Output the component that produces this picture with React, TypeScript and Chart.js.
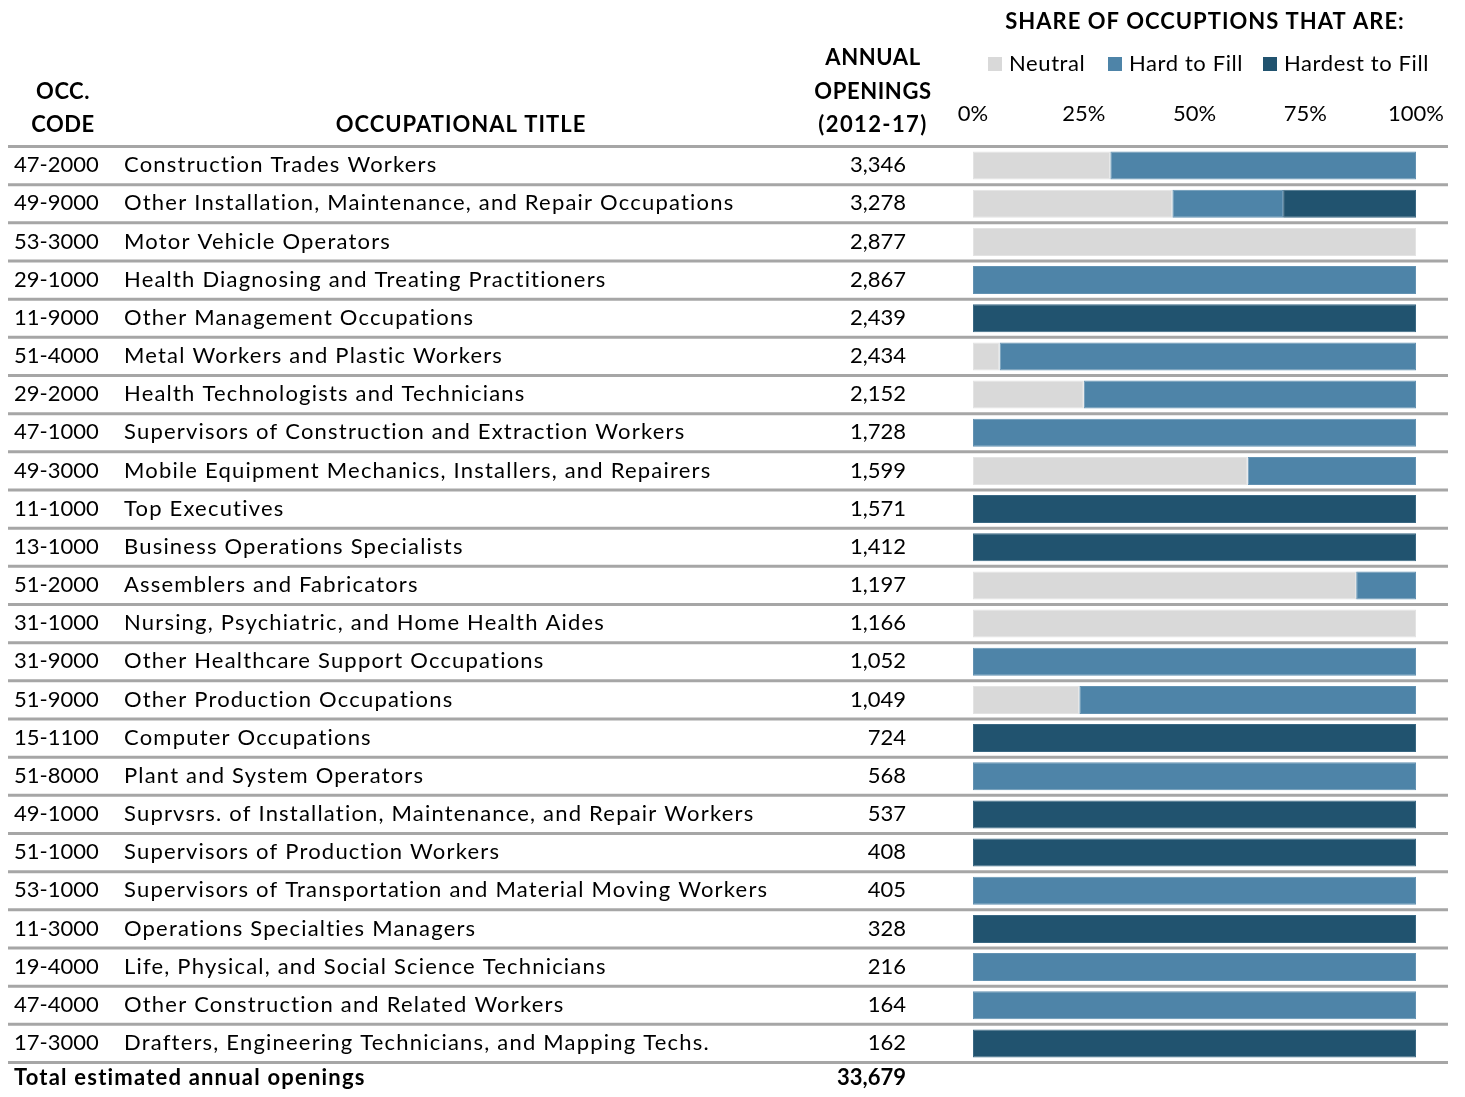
import React, { useEffect, useRef } from "react";
import { Chart, registerables } from "chart.js";

Chart.register(...registerables);

const codes = [
  "47-2000", "49-9000", "53-3000", "29-1000", "11-9000", "51-4000", "29-2000", "47-1000",
  "49-3000", "11-1000", "13-1000", "51-2000", "31-1000", "31-9000", "51-9000", "15-1100",
  "51-8000", "49-1000", "51-1000", "53-1000", "11-3000", "19-4000", "47-4000", "17-3000",
];

const titles = [
  "Construction Trades Workers",
  "Other Installation, Maintenance, and Repair Occupations",
  "Motor Vehicle Operators",
  "Health Diagnosing and Treating Practitioners",
  "Other Management Occupations",
  "Metal Workers and Plastic Workers",
  "Health Technologists and Technicians",
  "Supervisors of Construction and Extraction Workers",
  "Mobile Equipment Mechanics, Installers, and Repairers",
  "Top Executives",
  "Business Operations Specialists",
  "Assemblers and Fabricators",
  "Nursing, Psychiatric, and Home Health Aides",
  "Other Healthcare Support Occupations",
  "Other Production Occupations",
  "Computer Occupations",
  "Plant and System Operators",
  "Suprvsrs. of Installation, Maintenance, and Repair Workers",
  "Supervisors of Production Workers",
  "Supervisors of Transportation and Material Moving Workers",
  "Operations Specialties Managers",
  "Life, Physical, and Social Science Technicians",
  "Other Construction and Related Workers",
  "Drafters, Engineering Technicians, and Mapping Techs.",
];

const openings = [
  3346, 3278, 2877, 2867, 2439, 2434, 2152, 1728, 1599, 1571, 1412, 1197,
  1166, 1052, 1049, 724, 568, 537, 408, 405, 328, 216, 164, 162,
];

const neutralShare = [31, 45, 100, 0, 0, 6, 25, 0, 62, 0, 0, 86.5, 100, 0, 24, 0, 0, 0, 0, 0, 0, 0, 0, 0];
const hardShare = [69, 25, 0, 100, 0, 94, 75, 100, 38, 0, 0, 13.5, 0, 100, 76, 0, 100, 0, 0, 100, 0, 100, 100, 0];
const hardestShare = [0, 30, 0, 0, 100, 0, 0, 0, 0, 100, 100, 0, 0, 0, 0, 100, 0, 100, 100, 0, 100, 0, 0, 100];

const seriesLabels = ["Neutral", "Hard to Fill", "Hardest to Fill"];
const seriesColors = ["#d9d9d9", "#4e84a8", "#21536f"];
const seriesBorders = ["#e3e3e3", "#6392b2", "#3a6883"];
const xTicks = [0, 25, 50, 75, 100];

const headerTitle = "SHARE OF OCCUPTIONS THAT ARE:";
const totalLabel = "Total estimated annual openings";

const FONT = "Lato, 'Open Sans', sans-serif";
const NARROW = "'Liberation Sans Narrow', Lato, sans-serif";

const tablePlugin = {
  id: "tablePlugin",
  beforeDatasetsDraw(chart: any) {
    const ctx = chart.ctx;
    const y = chart.scales.y;
    const n = codes.length;
    const top = chart.chartArea.top;
    const bottom = chart.chartArea.bottom;
    const step = (bottom - top) / n;
    ctx.save();
    ctx.strokeStyle = "#a6a6a6";
    ctx.lineWidth = 3;
    for (let i = 0; i <= n; i++) {
      const yy = i === 0 ? top : y.getPixelForTick(i - 1) + step / 2;
      ctx.beginPath();
      ctx.moveTo(8, yy);
      ctx.lineTo(1448, yy);
      ctx.stroke();
    }
    ctx.restore();
  },
  afterDraw(chart: any) {
    const ctx = chart.ctx;
    const y = chart.scales.y;
    ctx.save();
    ctx.fillStyle = "#000";
    ctx.textBaseline = "middle";

    // rows
    for (let i = 0; i < codes.length; i++) {
      const yy = y.getPixelForTick(i) - 0.5;
      ctx.textAlign = "left";
      ctx.font = `22px ${FONT}`;
      (ctx as any).letterSpacing = "0px";
      ctx.fillText(codes[i], 14, yy);
      (ctx as any).letterSpacing = "1.2px";
      ctx.fillText(titles[i], 124, yy);
      ctx.font = `22px ${NARROW}`;
      (ctx as any).letterSpacing = "0px";
      ctx.textAlign = "right";
      ctx.fillText(openings[i].toLocaleString("en-US"), 906, yy);
    }

    // total row
    const total = openings.reduce((a, b) => a + b, 0);
    ctx.font = `bold 22px ${FONT}`;
    (ctx as any).letterSpacing = "1.2px";
    ctx.textAlign = "left";
    ctx.fillText(totalLabel, 14, 1078);
    (ctx as any).letterSpacing = "0px";
    ctx.font = `bold 22px ${NARROW}`;
    ctx.textAlign = "right";
    ctx.fillText(total.toLocaleString("en-US"), 906, 1078);

    // column headers
    ctx.font = `bold 22px ${FONT}`;
    ctx.textAlign = "center";
    (ctx as any).letterSpacing = "0.5px";
    ctx.fillText("OCC.", 63, 92);
    ctx.fillText("CODE", 63, 125);
    (ctx as any).letterSpacing = "1px";
    ctx.fillText("OCCUPATIONAL TITLE", 461, 125);
    ctx.font = `bold 22px ${NARROW}`;
    (ctx as any).letterSpacing = "0.6px";
    ctx.fillText("ANNUAL", 873, 58);
    ctx.fillText("OPENINGS", 873, 92);
    (ctx as any).letterSpacing = "1.4px";
    ctx.fillText("(2012-17)", 873, 125);

    // share header
    (ctx as any).letterSpacing = "1px";
    ctx.font = `bold 22px ${NARROW}`;
    ctx.fillText(headerTitle, 1205, 22);

    // legend
    const legendX = [988, 1108, 1263];
    ctx.textAlign = "left";
    ctx.font = `22px ${NARROW}`;
    (ctx as any).letterSpacing = "0.6px";
    chart.data.datasets.forEach((ds: any, k: number) => {
      ctx.fillStyle = ds.backgroundColor;
      ctx.fillRect(legendX[k], 57, 14, 14);
      ctx.fillStyle = "#000";
      ctx.fillText(ds.label, legendX[k] + 21, 64);
    });
    ctx.restore();
  },
};

export default function App() {
  const ref = useRef<HTMLCanvasElement>(null);
  useEffect(() => {
    if (!ref.current) return;
    const shares = [neutralShare, hardShare, hardestShare];
    const chart = new Chart(ref.current, {
      type: "bar",
      data: {
        labels: codes,
        datasets: shares.map((arr, k) => ({
          label: seriesLabels[k],
          data: arr.map((v) => (v === 0 ? null : v)),
          backgroundColor: seriesColors[k],
          borderColor: seriesBorders[k],
          borderWidth: 1,
          borderSkipped: false,
          categoryPercentage: 1,
          barPercentage: 0.733,
        })),
      },
      options: {
        responsive: false,
        animation: false,
        indexAxis: "y",
        layout: { padding: { left: 973, right: 49, top: 86.5, bottom: 34.5 } },
        scales: {
          x: {
            stacked: true,
            min: 0,
            max: 100,
            position: "top",
            grid: { display: false, drawTicks: false },
            border: { display: false },
            ticks: {
              stepSize: 25,
              autoSkip: false,
              maxRotation: 0,
              padding: 19,
              color: "#000",
              font: { family: NARROW, size: 22 },
              callback: (v: any) => (xTicks.includes(Number(v)) ? `${v}%` : ""),
            },
            afterFit: (s: any) => {
              s.height = 60;
            },
          },
          y: { stacked: true, display: false },
        },
        plugins: { legend: { display: false }, tooltip: { enabled: false } },
      },
      plugins: [tablePlugin],
    } as any);
    return () => chart.destroy();
  }, []);
  return (
    <div style={{ position: "fixed", left: 0, top: 0, width: 1465, height: 1097, background: "#fff" }}>
      <canvas ref={ref} width={1465} height={1097} style={{ width: 1465, height: 1097, display: "block" }} />
    </div>
  );
}
